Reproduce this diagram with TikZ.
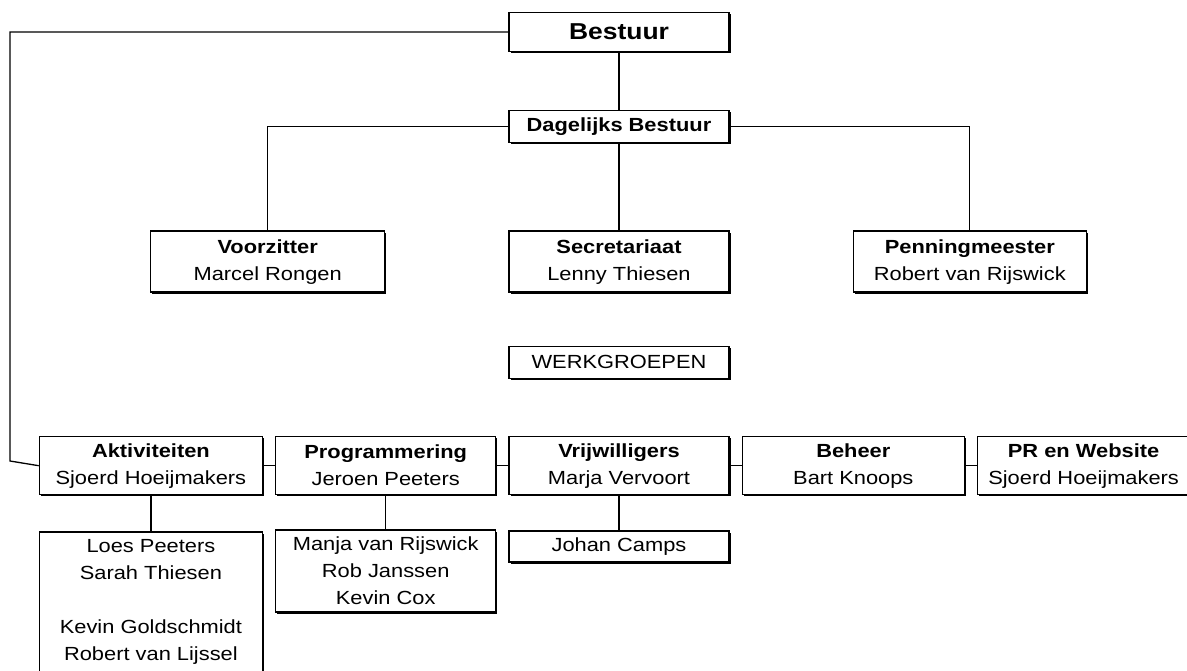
\documentclass[tikz,border=0pt]{standalone}
\usepackage{fontspec}
\setmainfont[FakeStretch=1.15]{Liberation Sans}
\usetikzlibrary{positioning, shadows}

\begin{document}
\begin{tikzpicture}[
        x=1pt, y=-1pt,
        node distance=12pt,
        every node/.style={font=\fontsize{19}{27}\selectfont},
        orgbox/.style={draw, fill=white, line width=1.3pt, align=center, inner sep=3pt,
            drop shadow={shadow xshift=1.6pt, shadow yshift=-1.6pt, opacity=1, fill=black}},
        kop/.style={orgbox, minimum width=220pt, minimum height=32pt},
        functie/.style={orgbox, minimum height=61pt},
        groep/.style={orgbox, minimum height=58pt},
        leden/.style={orgbox, inner ysep=7pt},
        lijn/.style={line width=1.3pt}
    ]
    \useasboundingbox (0,0) rectangle (1187,670);

    % Bestuur
    \node [kop, minimum height=39pt, font=\fontsize{23}{27}\selectfont\bfseries] (bestuur) at (619,32) {Bestuur};
    \node [kop, font=\fontsize{19}{27}\selectfont\bfseries] (dagelijks) [below=58pt of bestuur] {Dagelijks Bestuur};

    % Functies
    \node [functie, minimum width=220pt] (secr) [below=87pt of dagelijks] {\textbf{Secretariaat}\\Lenny Thiesen};
    \node [functie, minimum width=234pt] (voorz) [left=123pt of secr] {\textbf{Voorzitter}\\Marcel Rongen};
    \node [functie, minimum width=233pt] (penn) [right=123pt of secr] {\textbf{Penningmeester}\\Robert van Rijswick};

    % Werkgroepen
    \node [kop] (werk) [below=53pt of secr] {WERKGROEPEN};
    \node [groep, minimum width=220pt] (vrij) [below=57pt of werk] {\textbf{Vrijwilligers}\\Marja Vervoort};
    \node [groep, minimum width=220pt] (prog) [left=of vrij] {\textbf{Programmering}\\Jeroen Peeters};
    \node [groep, minimum width=223pt] (akt) [left=of prog] {\textbf{Aktiviteiten}\\Sjoerd Hoeijmakers};
    \node [groep, minimum width=222pt] (beheer) [right=of vrij] {\textbf{Beheer}\\Bart Knoops};
    \node [groep, minimum width=212pt] (pr) [right=of beheer] {\textbf{PR en Website}\\Sjoerd Hoeijmakers};

    % Leden (box loopt door onder de rand)
    \node [leden, minimum width=223pt] (aktleden) [below=36pt of akt] {Loes Peeters\\Sarah Thiesen\\~\\Kevin Goldschmidt\\Robert van Lijssel\\~};
    \node [leden, minimum width=220pt] (progleden) [below=34pt of prog] {Manja van Rijswick\\Rob Janssen\\Kevin Cox};
    \node [kop, minimum height=31pt] (vrijleden) [below=35pt of vrij] {Johan Camps};

    % Lijnen
    \coordinate (links) at (10,461);
    \draw [lijn] (bestuur.west) -| (links) -- (akt.west);
    \draw [lijn] (bestuur) -- (dagelijks);
    \draw [lijn] (dagelijks) -- (secr);
    \draw [lijn] (dagelijks.west) -| (voorz.north);
    \draw [lijn] (dagelijks.east) -| (penn.north);
    \draw [lijn] (akt) -- (prog);
    \draw [lijn] (prog) -- (vrij);
    \draw [lijn] (vrij) -- (beheer);
    \draw [lijn] (beheer) -- (pr);
    \draw [lijn] (akt) -- (aktleden);
    \draw [lijn] (prog) -- (progleden);
    \draw [lijn] (vrij) -- (vrijleden);

\end{tikzpicture}
\end{document}
